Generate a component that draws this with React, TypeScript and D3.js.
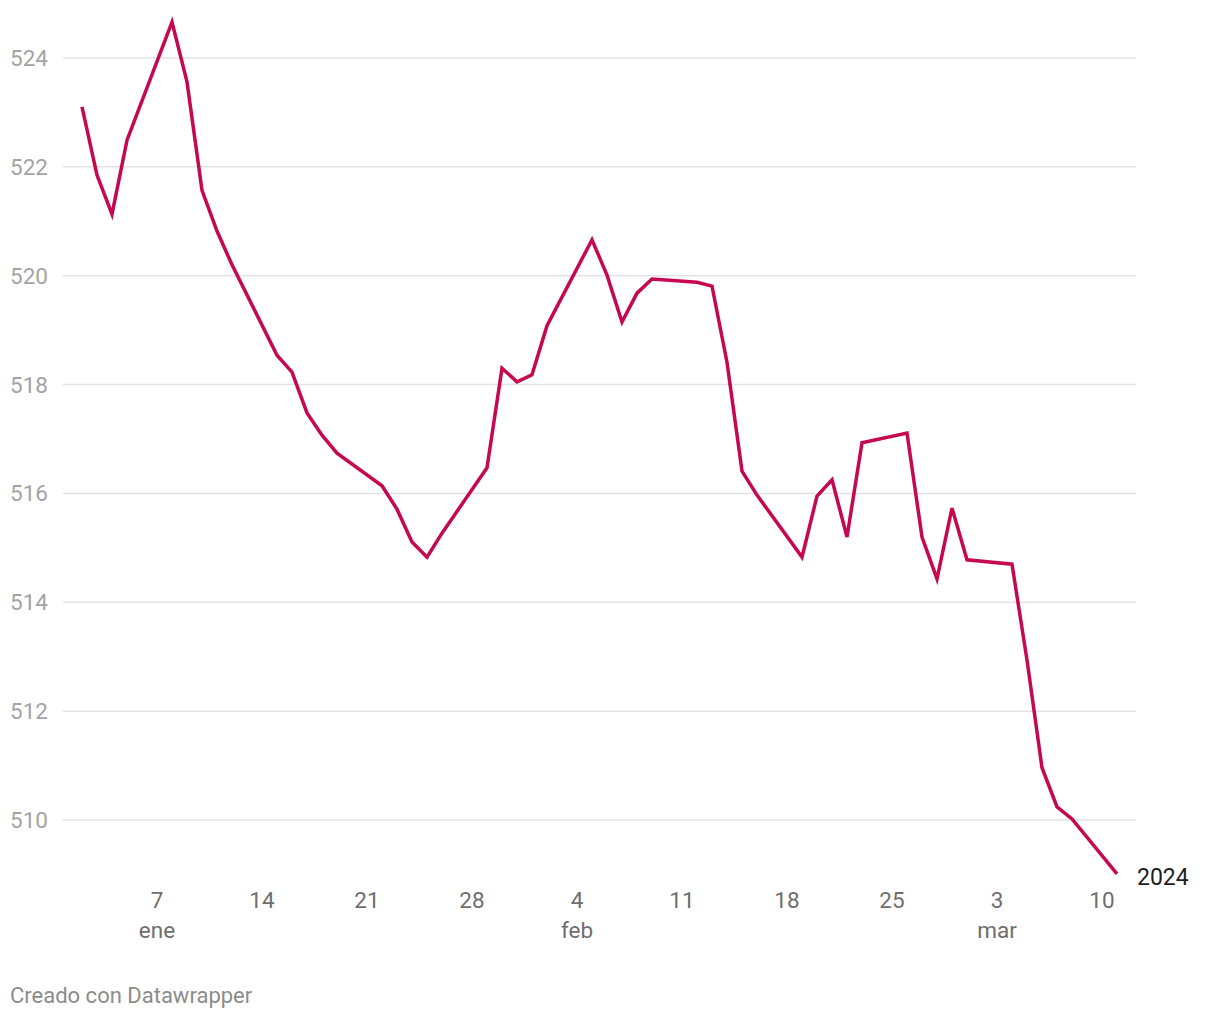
import React from 'react';
import * as d3 from 'd3';

// daily closes (weekdays only)
const dates = [
  '2024-01-02', '2024-01-03', '2024-01-04', '2024-01-05',
  '2024-01-08', '2024-01-09', '2024-01-10', '2024-01-11', '2024-01-12',
  '2024-01-15', '2024-01-16', '2024-01-17', '2024-01-18', '2024-01-19',
  '2024-01-22', '2024-01-23', '2024-01-24', '2024-01-25', '2024-01-26',
  '2024-01-29', '2024-01-30', '2024-01-31', '2024-02-01', '2024-02-02',
  '2024-02-05', '2024-02-06', '2024-02-07', '2024-02-08', '2024-02-09',
  '2024-02-12', '2024-02-13', '2024-02-14', '2024-02-15', '2024-02-16',
  '2024-02-19', '2024-02-20', '2024-02-21', '2024-02-22', '2024-02-23',
  '2024-02-26', '2024-02-27', '2024-02-28', '2024-02-29', '2024-03-01',
  '2024-03-04', '2024-03-05', '2024-03-06', '2024-03-07', '2024-03-08',
  '2024-03-11',
];

const values = [
  523.10, 521.85, 521.13, 522.49,
  524.66, 523.56, 521.57, 520.82, 520.20,
  518.54, 518.23, 517.48, 517.07, 516.74,
  516.14, 515.71, 515.11, 514.83, 515.27,
  516.47, 518.30, 518.05, 518.18, 519.08,
  520.66, 520.01, 519.15, 519.68, 519.94,
  519.88, 519.81, 518.41, 516.41, 515.97,
  514.83, 515.95, 516.25, 515.20, 516.93,
  517.11, 515.20, 514.43, 515.73, 514.78,
  514.70, 512.94, 510.96, 510.24, 510.02,
  509.01,
];

const seriesName = '2024';
const yTicks = [510, 512, 514, 516, 518, 520, 522, 524];
const monthNames = ['ene', 'feb', 'mar', 'abr', 'may', 'jun', 'jul', 'ago', 'sep', 'oct', 'nov', 'dic'];
const credit = 'Creado con Datawrapper';

const W = 1220;
const H = 1020;
const lineColor = '#c5084f';
const font = 'Roboto, sans-serif';

const parse = d3.utcParse('%Y-%m-%d');

const App: React.FC = () => {
  const points = dates.map((d, i) => ({ date: parse(d) as Date, value: values[i] }));

  const x = d3.scaleUtc()
    .domain([parse('2024-01-02') as Date, parse('2024-03-11') as Date])
    .range([82, 1117]);

  const y = d3.scaleLinear()
    .domain([510, 524])
    .range([820, 58]);

  const line = d3.line<{ date: Date; value: number }>()
    .x(d => x(d.date))
    .y(d => y(d.value));

  const xTicks = x.ticks(d3.utcSunday);
  const last = points[points.length - 1];

  return (
    <div style={{ position: 'absolute', left: 0, top: 0, background: '#fff' }}>
      <svg width={W} height={H} style={{ display: 'block', fontFamily: font }}>
        <g>
          {yTicks.map(t => (
            <g key={t}>
              <line x1={63} x2={1136} y1={y(t)} y2={y(t)} stroke="#e3e3e3" strokeWidth={1.5} />
              <text x={10} y={y(t) + 8} fontSize={22.5} fill="#a3a3a3">{t}</text>
            </g>
          ))}
        </g>

        <g>
          {xTicks.map((t, i) => {
            const prev = xTicks[i - 1];
            const newMonth = !prev || prev.getUTCMonth() !== t.getUTCMonth();
            return (
              <g key={t.toISOString()} transform={`translate(${x(t)},0)`}>
                <text y={908} textAnchor="middle" fontSize={22.5} fill="#6e6e6e">{t.getUTCDate()}</text>
                {newMonth && (
                  <text y={938} textAnchor="middle" fontSize={22.5} fill="#6e6e6e">{monthNames[t.getUTCMonth()]}</text>
                )}
              </g>
            );
          })}
        </g>

        <path d={line(points) ?? ''} fill="none" stroke={lineColor} strokeWidth={3.5}
          strokeLinejoin="miter" strokeLinecap="butt" />

        <text x={x(last.date) + 20} y={y(last.value) + 11} fontSize={23} fill="#1d1d1d">{seriesName}</text>

        <text x={10} y={1003} fontSize={22} fill="#8c8c8c">{credit}</text>
      </svg>
    </div>
  );
};

export default App;
